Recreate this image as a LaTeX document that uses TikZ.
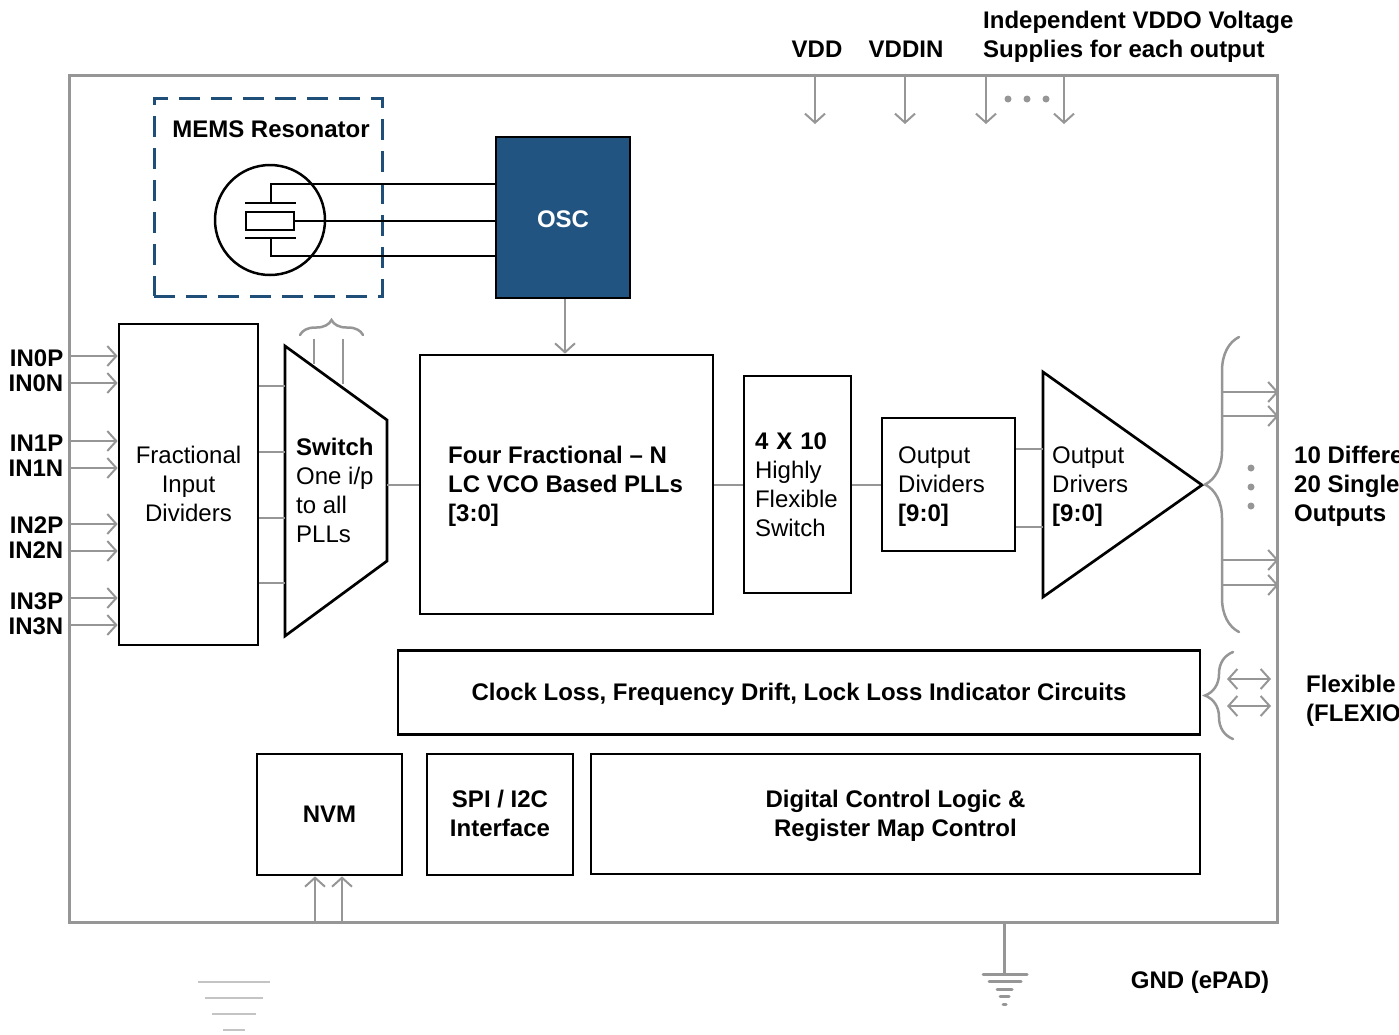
\documentclass[tikz,border=0pt]{standalone}
\usepackage{fontspec}
\setmainfont{Liberation Sans}
\usetikzlibrary{arrows.meta, decorations.pathreplacing}
\definecolor{wiregray}{HTML}{969696}
\definecolor{palegray}{HTML}{C4C4C4}
\definecolor{memsblue}{HTML}{1F4E79}
\definecolor{oscblue}{HTML}{215480}
\tikzset{
  every node/.style={font=\fontsize{24}{29}\selectfont, inner sep=0pt},
  bold/.style={font=\fontsize{24}{29}\selectfont\bfseries},
  blockbox/.style={draw=black, line width=2.7pt, line join=miter, align=left},
  wire/.style={draw=wiregray, line width=2pt},
  sigarrow/.style={wire, -{Straight Barb[length=9pt,width=20pt,line width=2pt]}},
  dualarrow/.style={wire, {Straight Barb[length=9pt,width=20pt,line width=2pt]}-{Straight Barb[length=9pt,width=20pt,line width=2pt]}},
  blackwire/.style={draw=black, line width=2.7pt},
  bracewire/.style={draw=wiregray, line width=2.5pt, line cap=round, decorate},
  gndbar/.style={draw=wiregray, line width=3pt, line cap=round},
}
\begin{document}
\begin{tikzpicture}[x=1pt, y=-1pt]
  \useasboundingbox (0,0) rectangle (1399,1034);

  % chip outline
  \node[draw=wiregray, line width=3pt, minimum width=1208pt, minimum height=847pt] (chip) at (673,498.5) {};

  % resonator
  \node[draw=memsblue, line width=3pt, dash pattern=on 21pt off 11pt, minimum width=228pt, minimum height=198pt] (mems) at (268,197) {};
  \node[bold] (memslabel) at (271,129) {MEMS Resonator};
  \node[draw=black, line width=2.7pt, fill=oscblue, minimum width=134pt, minimum height=161pt] (osc) at (563,217.5) {};
  \node[bold, text=white] (osclabel) at (563,219) {OSC};
  \node[draw=black, line width=2.5pt, circle, minimum size=110pt] (res) at (270,220) {};
  \node[draw=black, line width=2.7pt, minimum width=48pt, minimum height=18pt] (crystal) at (270,221) {};
  \coordinate (platetop) at (271,203);
  \coordinate (platebot) at (271,238);
  \draw[blackwire] (245,203) -- (296,203);
  \draw[blackwire] (245,238) -- (296,238);
  \draw[blackwire] (platetop) -- (271,184) -- (osc.west |- 0,184);
  \draw[blackwire] (crystal.east) -- (osc.west |- crystal.east);
  \draw[blackwire] (platebot) -- (271,256) -- (osc.west |- 0,256);

  % main signal path
  \node[blockbox, minimum width=139pt, minimum height=321pt] (indiv) at (188.5,484.5) {};
  \node[align=center] (indivtext) at (188.5,483.5) {Fractional\\Input\\Dividers};
  \coordinate (muxa) at (285,346);
  \coordinate (muxb) at (387,420);
  \coordinate (muxc) at (387,561);
  \coordinate (muxd) at (285,636);
  \draw[blackwire, line join=miter] (muxa) -- (muxb) -- (muxc) -- (muxd) -- cycle;
  \coordinate (muxw) at (285,485);
  \coordinate (muxe) at (387,485);
  \node[align=left, anchor=west] (muxtext) at (296,490) {\textbf{Switch}\\One i/p\\to all\\PLLs};
  \node[blockbox, minimum width=293pt, minimum height=259pt] (pll) at (566.5,484.5) {};
  \node[bold, align=left, anchor=west] (plltext) at (448,486) {Four Fractional – N\\LC VCO Based PLLs\\{[3:0]}};
  \node[blockbox, minimum width=107pt, minimum height=217pt, text width=85pt] (xsw) at (797.5,484.5) {\textbf{4 X 10}\\Highly\\Flexible\\Switch};
  \node[blockbox, minimum width=133pt, minimum height=133pt] (odiv) at (948.5,484.5) {};
  \node[align=left, anchor=west] (odivtext) at (898,486.5) {Output\\Dividers\\\textbf{[9:0]}};
  \coordinate (drva) at (1043,372);
  \coordinate (drvb) at (1202,485);
  \coordinate (drvc) at (1043,597);
  \draw[blackwire, line join=miter] (drva) -- (drvb) -- (drvc) -- cycle;
  \coordinate (drvw) at (1043,485);
  \node[align=left, anchor=west] (drvtext) at (1052,486.5) {Output\\Drivers\\\textbf{[9:0]}};

  % lower blocks
  \node[blockbox, minimum width=802pt, minimum height=84pt] (ind) at (799,692.5) {};
  \node[bold] (indtext) at (799,694) {Clock Loss, Frequency Drift, Lock Loss Indicator Circuits};
  \node[blockbox, minimum width=145pt, minimum height=121pt, bold] (nvm) at (329.5,814.5) {NVM};
  \node[blockbox, minimum width=146pt, minimum height=121pt] (spi) at (500,814.5) {};
  \node[bold, align=center] (spitext) at (500,813.5) {SPI / I2C\\Interface};
  \node[blockbox, minimum width=609pt, minimum height=120pt] (ctrl) at (895.5,814) {};
  \node[bold, align=center] (ctrltext) at (895.5,816) {Digital Control Logic \&\\Register Map Control};

  \draw[sigarrow] (565,0 |- osc.south) -- (565,0 |- pll.north);
  \foreach \yy in {386,452,518,583}
    \draw[wire] (indiv.east |- 0,\yy) -- (muxw |- 0,\yy);
  \draw[wire] (muxe) -- (muxe -| pll.west);
  \draw[wire] (pll.east) -- (xsw.west);
  \draw[wire] (xsw.east) -- (odiv.west);
  \foreach \yy in {449,527}
    \draw[wire] (odiv.east |- 0,\yy) -- (drvw |- 0,\yy);

  % inputs
  \foreach \nm/\lbl/\yy/\ly in {in0p/IN0P/356/358,in0n/IN0N/383/383,in1p/IN1P/441/443,in1n/IN1N/468/468,in2p/IN2P/524/525,in2n/IN2N/551/550,in3p/IN3P/598/601,in3n/IN3N/625/626} {
    \node[bold, anchor=east] (\nm) at (63.5,\ly) {\lbl};
    \draw[sigarrow] (chip.west |- 0,\yy) -- (indiv.west |- 0,\yy);
  }

  % brace above switch
  \coordinate (selleft) at (300,335);
  \coordinate (selright) at (363,335);
  \draw[bracewire, decoration={brace, amplitude=15pt}] (selleft) -- (selright);
  \draw[wire] (314,339) -- (314,364);
  \draw[wire] (343,339) -- (343,384);

  % supplies
  \node[bold] (vdd) at (817,49) {VDD};
  \node[bold] (vddin) at (906,49) {VDDIN};
  \node[bold, align=left, anchor=north west] (vddo) at (983,11) {Independent VDDO Voltage\\Supplies for each output};
  \foreach \xx in {815,905,986,1064}
    \draw[sigarrow] (\xx,0 |- chip.north) -- (\xx,124);
  \foreach \xx in {1008,1027,1046}
    \fill[wiregray] (\xx,99) circle (3.5pt);

  % outputs
  \coordinate (outlow) at (1239,632);
  \coordinate (outhigh) at (1239,337);
  \draw[bracewire, decoration={brace, amplitude=34pt}] (outlow) -- (outhigh);
  \foreach \yy in {392,416,560,585}
    \draw[sigarrow] (1222,\yy) -- (chip.east |- 0,\yy);
  \foreach \yy in {468,487,506}
    \fill[wiregray] (1251,\yy) circle (3.5pt);
  \node[bold, align=left, anchor=west] (outlabel) at (1294,486) {10 Differe\\20 Single\\Outputs};

  % flexio
  \coordinate (flexlow) at (1233,739);
  \coordinate (flexhigh) at (1233,652);
  \draw[bracewire, decoration={brace, amplitude=28pt}] (flexlow) -- (flexhigh);
  \foreach \yy in {679,706}
    \draw[dualarrow] (1227,\yy) -- (1271,\yy);
  \node[bold, align=left, anchor=west] (flexlabel) at (1306,701) {Flexible\\(FLEXIO};

  % bottom
  \foreach \xx in {315,342}
    \draw[sigarrow] (\xx,0 |- chip.south) -- (\xx,0 |- nvm.south);
  \coordinate (gndtop) at (1004,974);
  \draw[draw=wiregray, line width=3pt] (chip.south -| gndtop) -- (gndtop);
  \draw[gndbar] (983,974) -- (1027,974);
  \draw[gndbar] (989,981) -- (1021,981);
  \draw[gndbar] (997,989) -- (1012,989);
  \draw[gndbar] (1000,996) -- (1009,996);
  \draw[gndbar] (1003,1004) -- (1006,1004);
  \node[bold] (gnd) at (1200,982) {GND (ePAD)};
  \draw[draw=palegray, line width=2pt] (198,982) -- (270,982);
  \draw[draw=palegray, line width=2pt] (205,998) -- (263,998);
  \draw[draw=palegray, line width=2pt] (212,1014) -- (256,1014);
  \draw[draw=palegray, line width=2pt] (223,1030) -- (245,1030);
\end{tikzpicture}
\end{document}
